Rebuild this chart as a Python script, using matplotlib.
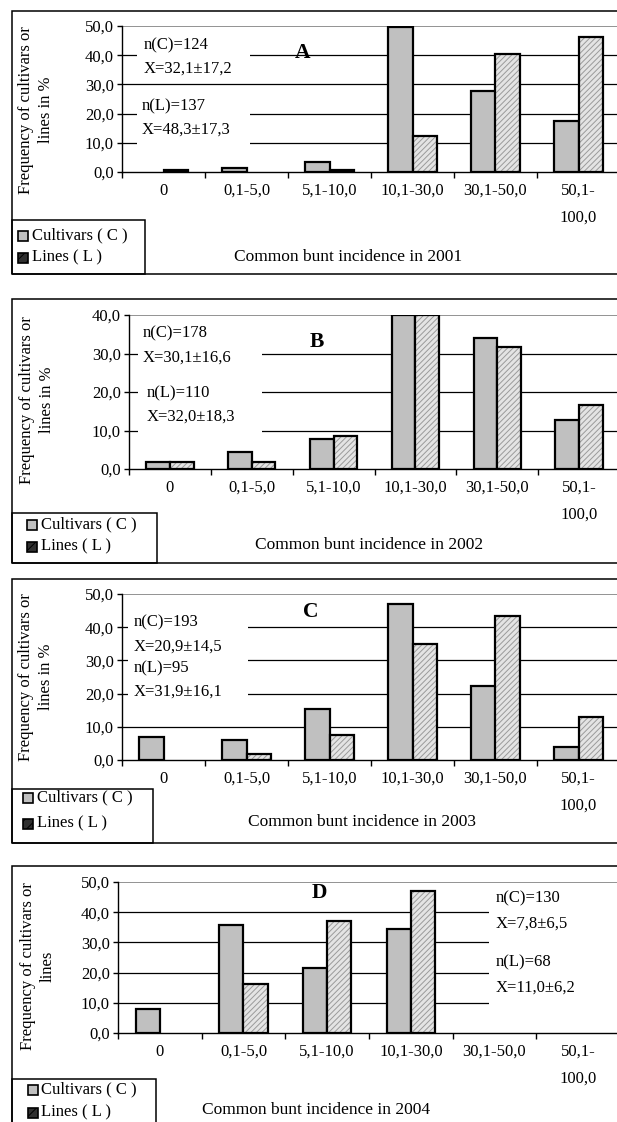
import matplotlib
matplotlib.use("Agg")
import matplotlib.pyplot as plt
from matplotlib.patches import Rectangle

plt.rcParams['font.family'] = ['Liberation Serif', 'DejaVu Serif']
plt.rcParams['hatch.linewidth'] = 0.7

# --- data -------------------------------------------------------------
categories = ["0", "0,1-5,0", "5,1-10,0", "10,1-30,0", "30,1-50,0", "50,1-\n100,0"]

cultivars_2001 = [0.0, 1.5, 3.3, 49.8, 27.9, 17.5]
lines_2001 = [0.6, 0.0, 0.6, 12.3, 40.4, 46.4]

cultivars_2002 = [1.9, 4.3, 7.9, 40.0, 33.9, 12.8]
lines_2002 = [1.9, 1.9, 8.6, 40.0, 31.8, 16.7]

cultivars_2003 = [6.9, 6.1, 15.4, 47.0, 22.4, 3.8]
lines_2003 = [0.0, 1.9, 7.4, 34.9, 43.5, 13.0]

cultivars_2004 = [7.9, 35.7, 21.5, 34.5, 0.0, 0.0]
lines_2004 = [0.0, 16.3, 37.1, 46.9, 0.0, 0.0]

stats_2001 = ["n(C)=124", "X=32,1±17,2", "n(L)=137", "X=48,3±17,3"]
stats_2002 = ["n(C)=178", "X=30,1±16,6", "n(L)=110", "X=32,0±18,3"]
stats_2003 = ["n(C)=193", "X=20,9±14,5", "n(L)=95", "X=31,9±16,1"]
stats_2004 = ["n(C)=130", "X=7,8±6,5", "n(L)=68", "X=11,0±6,2"]

years = ["2001", "2002", "2003", "2004"]
letters = ["A", "B", "C", "D"]
ymax = [50, 40, 50, 50]

# --- layout (pixels in a 617x1122 canvas) ------------------------------
W, H = 617, 1122
def fx(px):
    return px / W
def fy(py):
    return 1 - py / H

panels = [
    dict(box=(11, 274), ax=(122, 26, 172), ylab=("Frequency of cultivars or\nlines in %", 36, 110),
         xlab=(348, 257), leg=(220, 145, 235, 257, 18, 32),
         letter=(1.68, 40.8),
         stat_xy=[(-0.24, 43.5), (-0.24, 35.3), (-0.26, 22.3), (-0.26, 14.4)],
         white=[(-0.32, 1.04, 32, 47), (-0.32, 1.04, 7, 27)]),
    dict(box=(299, 563), ax=(129, 315, 469), ylab=("Frequency of cultivars or\nlines in %", 37, 400),
         xlab=(369, 545), leg=(513, 157, 524, 546, 27, 41),
         letter=(1.80, 33.0),
         stat_xy=[(-0.33, 35.3), (-0.33, 28.8), (-0.28, 19.7), (-0.28, 13.5)],
         white=[(-0.39, 1.12, 6, 38)]),
    dict(box=(579, 843), ax=(122, 594, 760), ylab=("Frequency of cultivars or\nlines in %", 36, 677),
         xlab=(362, 822), leg=(789, 153, 797, 823, 23, 37),
         letter=(1.78, 44.6),
         stat_xy=[(-0.36, 41.3), (-0.36, 34.0), (-0.36, 27.7), (-0.36, 20.5)],
         white=[(-0.43, 1.02, 17, 45)]),
    dict(box=(866, 1130), ax=(118, 882, 1033), ylab=("Frequency of cultivars or\nlines", 38, 966),
         xlab=(316, 1110), leg=(1079, 156, 1089, 1112, 28, 41),
         letter=(1.91, 46.4),
         stat_xy=[(4.01, 44.7), (4.01, 36.1), (4.01, 23.5), (4.01, 14.9)],
         white=[(3.93, 6.0, 5, 47)]),
]

cultivars = [cultivars_2001, cultivars_2002, cultivars_2003, cultivars_2004]
lines = [lines_2001, lines_2002, lines_2003, lines_2004]
stats = [stats_2001, stats_2002, stats_2003, stats_2004]

C_FACE = '#c0c0c0'
L_FACE = '#e4e4e4'
HATCH_COL = '#9a9a9a'
FS = 12
bar_w = 0.29

fig = plt.figure(figsize=(W / 100, H / 100), dpi=100)

def hide_empty(bars):
    # Excel does not draw bars with zero height
    for b in bars:
        if b.get_height() == 0:
            b.set_visible(False)

for k, p in enumerate(panels):
    # outer frame of each panel
    top, bot = p['box']
    fig.patches.append(Rectangle((fx(12), fy(bot)), fx(700) - fx(12), fy(top) - fy(bot),
                                 transform=fig.transFigure, fill=False, ec='black', lw=1.1))

    left, atop, abot = p['ax']
    right = 620
    ax = fig.add_axes([fx(left), fy(abot), fx(right) - fx(left), fy(atop) - fy(abot)])
    ax.set_xlim(-0.5, 5.5)
    ax.set_ylim(0, ymax[k])
    ax.patch.set_alpha(0)

    # gridlines
    yt = list(range(0, ymax[k] + 1, 10))
    for v in yt[1:-1]:
        ax.axhline(v, color='black', lw=0.9, zorder=1)
    ax.axhline(ymax[k], color='#808080', lw=1.2, zorder=1)

    for (x0, x1, y0, y1) in p['white']:
        ax.add_patch(Rectangle((x0, y0), x1 - x0, y1 - y0, fc='white', ec='none', zorder=2))

    xs = range(len(categories))
    cx = [i - bar_w / 2 for i in xs]
    lx = [i + bar_w / 2 for i in xs]
    hide_empty(ax.bar(cx, cultivars[k], width=bar_w, color=C_FACE, edgecolor='black',
                      lw=1.6, zorder=3))
    hide_empty(ax.bar(lx, lines[k], width=bar_w, color=L_FACE, edgecolor=HATCH_COL,
                      hatch='//////', lw=0, zorder=3))
    hide_empty(ax.bar(lx, lines[k], width=bar_w, fill=False, edgecolor='black',
                      lw=1.6, zorder=3.5))

    for s in ['top', 'right']:
        ax.spines[s].set_visible(False)
    ax.spines['left'].set_linewidth(1.0)
    ax.spines['bottom'].set_linewidth(1.0)
    ax.spines['left'].set_zorder(4)
    ax.spines['bottom'].set_zorder(4)

    ax.set_yticks(yt)
    ax.set_yticklabels([f"{v:.1f}".replace('.', ',') for v in yt], fontsize=FS)
    ax.tick_params(axis='y', direction='out', length=3.5, width=1.0, pad=2.5)

    ax.set_xticks(list(xs))
    ax.set_xticklabels(categories, fontsize=FS, linespacing=1.9)
    ax.set_xticks([i - 0.5 for i in range(7)], minor=True)
    ax.tick_params(axis='x', which='major', length=0, pad=8)
    ax.tick_params(axis='x', which='minor', direction='out', length=4, width=1.0)

    # panel letter and statistics
    lx0, ly0 = p['letter']
    ax.text(lx0, ly0, letters[k], fontsize=15.5, fontweight='bold', ha='center', va='center',
            zorder=5)
    for (tx, ty), s in zip(p['stat_xy'], stats[k]):
        ax.text(tx, ty, s, fontsize=FS, ha='left', va='center', zorder=5)

    # y label
    txt, yx, yy = p['ylab']
    fig.text(fx(yx), fy(yy), txt, rotation=90, ha='center', va='center', fontsize=FS,
             multialignment='center', linespacing=1.35)

    # x label
    xx, xy = p['xlab']
    fig.text(fx(xx), fy(xy), f"Common bunt incidence in {years[k]}", ha='center', va='center',
             fontsize=12.5)

    # legend box
    ltop, lright, y_c, y_l, sq_x, t_x = p['leg']
    fig.patches.append(Rectangle((fx(12), fy(bot)), fx(lright) - fx(12), fy(ltop) - fy(bot),
                                 transform=fig.transFigure, fill=False, ec='black', lw=1.1))
    sq = 10
    fig.patches.append(Rectangle((fx(sq_x), fy(y_c + sq / 2 + 1)), fx(sq), sq / H,
                                 transform=fig.transFigure, fc=C_FACE, ec='black', lw=1.2))
    fig.patches.append(Rectangle((fx(sq_x), fy(y_l + sq / 2 + 1)), fx(sq), sq / H,
                                 transform=fig.transFigure, fc='#303030', ec='black',
                                 hatch='///', lw=1.2))
    fig.text(fx(t_x), fy(y_c), "Cultivars ( C )", ha='left', va='center', fontsize=FS)
    fig.text(fx(t_x), fy(y_l), "Lines ( L )", ha='left', va='center', fontsize=FS)

fig.savefig("out.png", dpi=100)
